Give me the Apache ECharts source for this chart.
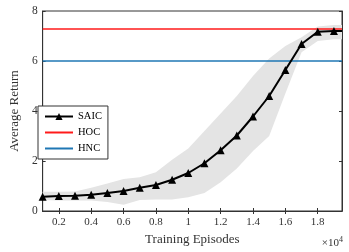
<!DOCTYPE html>
<html>
<head>
<meta charset="utf-8">
<script src="https://cdn.jsdelivr.net/npm/echarts@6/dist/echarts.min.js"></script>
<style>html,body{margin:0;padding:0;background:#fff}#c{width:349px;height:252px}</style>
</head>
<body>
<div id="c"></div>
<script>
// Training episodes (x)
const episodes = [1000,2000,3000,4000,5000,6000,7000,8000,9000,10000,11000,12000,13000,14000,15000,16000,17000,18000,19000,19500];
// SAIC mean return
const saicMean = [0.57,0.6,0.61,0.65,0.72,0.8,0.93,1.04,1.25,1.52,1.91,2.43,3.02,3.78,4.6,5.64,6.68,7.17,7.2,7.2];
// SAIC band lower / upper
const saicLower = [0.44,0.42,0.42,0.42,0.36,0.25,0.44,0.46,0.46,0.55,0.72,1.15,1.7,2.4,3.0,4.7,6.35,6.8,6.87,6.87];
const saicUpper = [0.77,0.77,0.78,0.93,1.1,1.28,1.35,1.55,2.05,2.5,3.2,3.9,4.6,5.4,6.1,6.6,6.95,7.38,7.44,7.44];
// Baselines
const hocValue = 7.28;
const hncValue = 6.0;
// Ticks
const xTicks = [2000,4000,6000,8000,10000,12000,14000,16000,18000];
const xTickLabels = ['0.2','0.4','0.6','0.8','1','1.2','1.4','1.6','1.8'];

const xMin = 1000, xMax = 19500;
const font = '"Liberation Serif","Times New Roman",serif';
const axisCol = '#333333';

const bandData = episodes.map((x,i)=>[x,saicLower[i],saicUpper[i]]);
const meanPts = episodes.map((x,i)=>[x,saicMean[i]]);
const symbolMask = episodes.map(x => x % 1000 === 0);

const chart = echarts.init(document.getElementById('c'), null, {renderer:'canvas'});
const xLabelMap = {};
xTicks.forEach((v,i)=>xLabelMap[v]=xTickLabels[i]);
const lineIcon = 'path://M0,0 L28,0 L28,2 L0,2 Z';

chart.setOption({
  animation:false,
  backgroundColor:'#fff',
  grid:{left:29,right:7,top:11,bottom:41,show:true,borderColor:axisCol,borderWidth:1,backgroundColor:'transparent'},
  legend:{
    orient:'vertical',left:38,top:106,
    data:[{name:'SAIC'},{name:'HOC',icon:lineIcon,itemHeight:2},{name:'HNC',icon:lineIcon,itemHeight:2}],
    backgroundColor:'#fff',borderColor:axisCol,borderWidth:1,
    padding:[5,6,5,6],itemGap:5,itemWidth:28,itemHeight:9,
    textStyle:{fontFamily:font,fontSize:10.5,color:'#000'}
  },
  xAxis:[{
    type:'value',min:xMin,max:xMax,
    axisLine:{show:true,onZero:false,lineStyle:{color:axisCol}},
    axisTick:{show:true,inside:true,length:3,customValues:xTicks,lineStyle:{color:axisCol}},
    axisLabel:{customValues:xTicks,formatter:v=>xLabelMap[v]||'',fontFamily:font,fontSize:11,color:axisCol,margin:6},
    splitLine:{show:false},
    name:'Training Episodes',nameLocation:'middle',nameGap:22,
    nameTextStyle:{fontFamily:font,fontSize:13,color:axisCol}
  },{
    type:'value',min:xMin,max:xMax,position:'top',
    axisLine:{show:true,lineStyle:{color:axisCol}},
    axisTick:{show:true,inside:true,length:3,customValues:xTicks,lineStyle:{color:axisCol}},
    axisLabel:{show:false},splitLine:{show:false}
  }],
  yAxis:[{
    type:'value',min:0,max:8,interval:2,
    axisLine:{show:true,onZero:false,lineStyle:{color:axisCol}},
    axisTick:{show:true,inside:true,length:3,lineStyle:{color:axisCol}},
    axisLabel:{fontFamily:font,fontSize:11.5,color:axisCol,margin:5},
    splitLine:{show:false},
    name:'Average Return',nameLocation:'middle',nameGap:21,
    nameTextStyle:{fontFamily:font,fontSize:13,color:axisCol}
  },{
    type:'value',min:0,max:8,interval:2,position:'right',
    axisLine:{show:true,lineStyle:{color:axisCol}},
    axisTick:{show:true,inside:true,length:3,lineStyle:{color:axisCol}},
    axisLabel:{show:false},splitLine:{show:false}
  }],
  graphic:[{
    type:'text',right:6,top:236,
    style:{text:'{a|×10}{b|4}',fontFamily:font,rich:{a:{fontFamily:font,fontSize:11,fill:axisCol},b:{fontFamily:font,fontSize:8,fill:axisCol,verticalAlign:'top',padding:[0,0,7,0]}}}
  }],
  series:[
    {name:'band',type:'custom',data:bandData,silent:true,z:1,
      encode:{x:0,y:[1,2]},
      renderItem:function(params,api){
        if(params.dataIndex!==0) return null;
        const up = bandData.map(d=>api.coord([d[0],d[2]]));
        const lo = bandData.map(d=>api.coord([d[0],d[1]])).reverse();
        return {type:'polygon',shape:{points:up.concat(lo)},style:{fill:'#e4e4e4'}};
      }},
    {name:'HOC',type:'line',data:[[xMin,hocValue],[xMax,hocValue]],symbol:'none',lineStyle:{color:'#ff1a1a',width:1.6},itemStyle:{color:'#ff1a1a'},z:3},
    {name:'HNC',type:'line',data:[[xMin,hncValue],[xMax,hncValue]],symbol:'none',lineStyle:{color:'#1f77b4',width:1.6},itemStyle:{color:'#1f77b4'},z:3},
    {name:'SAIC',type:'line',data:meanPts,
      symbol:'triangle',symbolSize:(v,p)=>symbolMask[p.dataIndex]?8:0,
      lineStyle:{color:'#000',width:2},itemStyle:{color:'#000'},z:4}
  ]
});
</script>
</body>
</html>
